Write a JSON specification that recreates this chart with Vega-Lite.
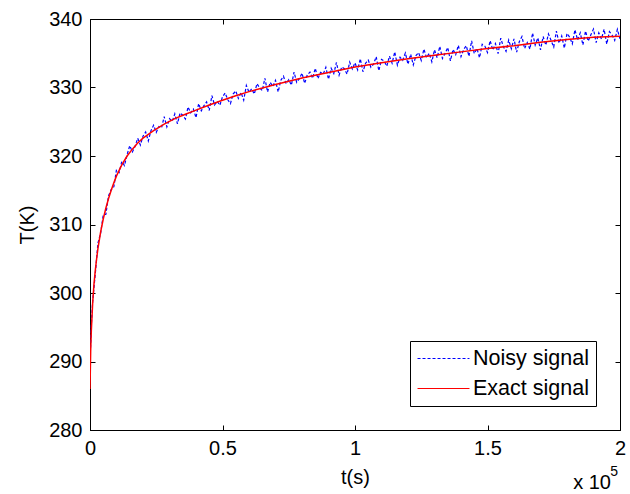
{
  "$schema": "https://vega.github.io/schema/vega-lite/v6.json",
  "width": 530,
  "height": 411,
  "autosize": {"type": "none"},
  "padding": {"left": 90, "top": 19, "right": 10, "bottom": 64},
  "background": "white",
  "config": {
    "font": "Liberation Sans",
    "view": {"stroke": "black", "strokeWidth": 1},
    "axis": {
      "grid": false,
      "domainColor": "black",
      "tickColor": "black",
      "labelColor": "black",
      "titleColor": "black",
      "labelFontSize": 20,
      "titleFontSize": 20,
      "titleFontWeight": "normal",
      "tickSize": -5,
      "labelPadding": 13
    },
    "legend": {
      "orient": "bottom-right",
      "offset": 24,
      "strokeColor": "black",
      "fillColor": "white",
      "padding": 7,
      "title": null,
      "symbolType": "stroke",
      "symbolSize": 2700,
      "symbolStrokeWidth": 1,
      "labelFontSize": 21.5,
      "labelColor": "black",
      "labelOffset": 3,
      "rowPadding": 8,
      "clipHeight": 21,
      "cornerRadius": 0
    }
  },
  "datasets": {
    "noisy": [
      {"t": 200, "T": 292.0}, {"t": 500, "T": 295.2},
      {"t": 1000, "T": 298.8}, {"t": 2000, "T": 302.8}, {"t": 3000, "T": 307.3}, {"t": 4000, "T": 308.7}, {"t": 5000, "T": 311.4},
      {"t": 6000, "T": 311.5}, {"t": 7000, "T": 314.2}, {"t": 8000, "T": 315.1}, {"t": 9000, "T": 315.5}, {"t": 10000, "T": 318.0},
      {"t": 11000, "T": 317.6}, {"t": 12000, "T": 319.2}, {"t": 13000, "T": 318.6}, {"t": 14000, "T": 320.2}, {"t": 15000, "T": 321.5},
      {"t": 16000, "T": 320.6}, {"t": 17000, "T": 321.4}, {"t": 18000, "T": 322.6}, {"t": 19000, "T": 321.6}, {"t": 20000, "T": 322.9},
      {"t": 21000, "T": 323.5}, {"t": 22000, "T": 322.2}, {"t": 23000, "T": 323.7}, {"t": 24000, "T": 324.5}, {"t": 25000, "T": 323.45},
      {"t": 26000, "T": 324.3}, {"t": 27000, "T": 324.1}, {"t": 28000, "T": 325.75}, {"t": 29000, "T": 324.25}, {"t": 30000, "T": 325.45},
      {"t": 31000, "T": 325.05}, {"t": 32000, "T": 326.15}, {"t": 33000, "T": 324.7}, {"t": 34000, "T": 326.3}, {"t": 35000, "T": 325.95},
      {"t": 36000, "T": 325.4}, {"t": 37000, "T": 327.15}, {"t": 38000, "T": 326.3}, {"t": 39000, "T": 326.85}, {"t": 40000, "T": 325.6},
      {"t": 41000, "T": 327.65}, {"t": 42000, "T": 326.6}, {"t": 43000, "T": 327.35}, {"t": 44000, "T": 327.9}, {"t": 45000, "T": 326.65},
      {"t": 46000, "T": 328.8}, {"t": 47000, "T": 327.45}, {"t": 48000, "T": 328.0}, {"t": 49000, "T": 327.4}, {"t": 50000, "T": 328.65},
      {"t": 51000, "T": 329.2}, {"t": 52000, "T": 328.2}, {"t": 53000, "T": 327.65}, {"t": 54000, "T": 329.05}, {"t": 55000, "T": 329.5},
      {"t": 56000, "T": 328.4}, {"t": 57000, "T": 329.25}, {"t": 58000, "T": 328.15}, {"t": 59000, "T": 330.3}, {"t": 60000, "T": 329.3},
      {"t": 61000, "T": 329.8}, {"t": 62000, "T": 329.05}, {"t": 63000, "T": 330.55}, {"t": 64000, "T": 329.95}, {"t": 65000, "T": 329.55},
      {"t": 66000, "T": 331.35}, {"t": 67000, "T": 329.35}, {"t": 68000, "T": 330.75}, {"t": 69000, "T": 330.15}, {"t": 70000, "T": 331.05},
      {"t": 71000, "T": 329.35}, {"t": 72000, "T": 331.05}, {"t": 73000, "T": 331.65}, {"t": 74000, "T": 330.55}, {"t": 75000, "T": 331.15},
      {"t": 76000, "T": 330.35}, {"t": 77000, "T": 332.25}, {"t": 78000, "T": 330.75}, {"t": 79000, "T": 331.3}, {"t": 80000, "T": 332.1},
      {"t": 81000, "T": 330.6}, {"t": 82000, "T": 331.85}, {"t": 83000, "T": 332.25}, {"t": 84000, "T": 331.35}, {"t": 85000, "T": 332.8},
      {"t": 86000, "T": 331.3}, {"t": 87000, "T": 332.2}, {"t": 88000, "T": 331.95}, {"t": 89000, "T": 332.95}, {"t": 90000, "T": 331.2},
      {"t": 91000, "T": 332.8}, {"t": 92000, "T": 332.05}, {"t": 93000, "T": 333.65}, {"t": 94000, "T": 331.8}, {"t": 95000, "T": 333.0},
      {"t": 96000, "T": 332.75}, {"t": 97000, "T": 331.95}, {"t": 98000, "T": 333.7}, {"t": 99000, "T": 332.7}, {"t": 100000, "T": 333.6},
      {"t": 101000, "T": 332.55}, {"t": 102000, "T": 334.2}, {"t": 103000, "T": 332.3}, {"t": 104000, "T": 333.55}, {"t": 105000, "T": 334.0},
      {"t": 106000, "T": 332.95}, {"t": 107000, "T": 333.4}, {"t": 108000, "T": 334.5}, {"t": 109000, "T": 332.45}, {"t": 110000, "T": 334.1},
      {"t": 111000, "T": 333.86}, {"t": 112000, "T": 333.12}, {"t": 113000, "T": 334.58}, {"t": 114000, "T": 333.54}, {"t": 115000, "T": 335.2},
      {"t": 116000, "T": 333.26}, {"t": 117000, "T": 334.42}, {"t": 118000, "T": 333.98}, {"t": 119000, "T": 335.04}, {"t": 120000, "T": 333.4},
      {"t": 121000, "T": 334.85}, {"t": 122000, "T": 333.3}, {"t": 123000, "T": 334.65}, {"t": 124000, "T": 335.1}, {"t": 125000, "T": 333.95},
      {"t": 126000, "T": 335.6}, {"t": 127000, "T": 334.35}, {"t": 128000, "T": 335.0}, {"t": 129000, "T": 333.75}, {"t": 130000, "T": 335.5},
      {"t": 131000, "T": 334.35}, {"t": 132000, "T": 336.0}, {"t": 133000, "T": 334.25}, {"t": 134000, "T": 335.0}, {"t": 135000, "T": 335.85},
      {"t": 136000, "T": 333.9}, {"t": 137000, "T": 335.55}, {"t": 138000, "T": 334.8}, {"t": 139000, "T": 336.15}, {"t": 140000, "T": 334.5},
      {"t": 141000, "T": 335.55}, {"t": 142000, "T": 336.1}, {"t": 143000, "T": 334.55}, {"t": 144000, "T": 336.8}, {"t": 145000, "T": 334.95},
      {"t": 146000, "T": 335.7}, {"t": 147000, "T": 334.35}, {"t": 148000, "T": 336.3}, {"t": 149000, "T": 336.05}, {"t": 150000, "T": 335.1},
      {"t": 151000, "T": 336.84}, {"t": 152000, "T": 335.48}, {"t": 153000, "T": 336.42}, {"t": 154000, "T": 334.96}, {"t": 155000, "T": 337.2},
      {"t": 156000, "T": 335.94}, {"t": 157000, "T": 335.28}, {"t": 158000, "T": 336.92}, {"t": 159000, "T": 335.66}, {"t": 160000, "T": 337.1},
      {"t": 161000, "T": 335.15}, {"t": 162000, "T": 336.7}, {"t": 163000, "T": 337.45}, {"t": 164000, "T": 335.7}, {"t": 165000, "T": 336.55},
      {"t": 166000, "T": 335.6}, {"t": 167000, "T": 337.95}, {"t": 168000, "T": 336.2}, {"t": 169000, "T": 337.25}, {"t": 170000, "T": 335.5},
      {"t": 171000, "T": 337.44}, {"t": 172000, "T": 336.18}, {"t": 173000, "T": 337.82}, {"t": 174000, "T": 336.86}, {"t": 175000, "T": 335.9},
      {"t": 176000, "T": 338.24}, {"t": 177000, "T": 336.48}, {"t": 178000, "T": 337.52}, {"t": 179000, "T": 335.76}, {"t": 180000, "T": 337.9},
      {"t": 181000, "T": 337.34}, {"t": 182000, "T": 336.38}, {"t": 183000, "T": 338.42}, {"t": 184000, "T": 336.95}, {"t": 185000, "T": 337.98},
      {"t": 186000, "T": 336.21}, {"t": 187000, "T": 338.24}, {"t": 188000, "T": 336.77}, {"t": 189000, "T": 337.7}, {"t": 190000, "T": 338.53},
      {"t": 191000, "T": 336.55}, {"t": 192000, "T": 337.97}, {"t": 193000, "T": 337.09}, {"t": 194000, "T": 338.51}, {"t": 195000, "T": 336.33},
      {"t": 196000, "T": 338.15}, {"t": 197000, "T": 337.67}, {"t": 198000, "T": 336.88}, {"t": 199000, "T": 338.49}, {"t": 200000, "T": 337.1}
    ],
    "exact": [
      {"t": 0, "T": 286.0}, {"t": 250, "T": 291.5}, {"t": 500, "T": 294.5}, {"t": 1000, "T": 298.5}, {"t": 1500, "T": 301.3},
      {"t": 2000, "T": 303.3}, {"t": 2500, "T": 305.0}, {"t": 3000, "T": 306.5}, {"t": 4000, "T": 308.9}, {"t": 5000, "T": 310.8},
      {"t": 6000, "T": 312.4}, {"t": 7000, "T": 313.8}, {"t": 8000, "T": 315.0}, {"t": 9000, "T": 316.1}, {"t": 10000, "T": 317.1},
      {"t": 12000, "T": 318.7}, {"t": 14000, "T": 320.0}, {"t": 16000, "T": 321.0}, {"t": 18000, "T": 321.9}, {"t": 20000, "T": 322.6},
      {"t": 24000, "T": 323.7}, {"t": 28000, "T": 324.65}, {"t": 32000, "T": 325.45}, {"t": 36000, "T": 326.1}, {"t": 40000, "T": 326.7},
      {"t": 45000, "T": 327.45}, {"t": 50000, "T": 328.15}, {"t": 55000, "T": 328.8}, {"t": 60000, "T": 329.4}, {"t": 70000, "T": 330.45},
      {"t": 80000, "T": 331.4}, {"t": 90000, "T": 332.2}, {"t": 100000, "T": 333.0}, {"t": 110000, "T": 333.6}, {"t": 120000, "T": 334.2},
      {"t": 130000, "T": 334.7}, {"t": 140000, "T": 335.2}, {"t": 150000, "T": 335.7}, {"t": 160000, "T": 336.1}, {"t": 170000, "T": 336.6},
      {"t": 180000, "T": 337.0}, {"t": 190000, "T": 337.33}, {"t": 200000, "T": 337.5}
    ]
  },
  "layer": [
    {
      "data": {"name": "noisy"},
      "mark": {"type": "line", "strokeWidth": 1.2, "strokeDash": [3, 2], "clip": true},
      "encoding": {
        "x": {"field": "t", "type": "quantitative", "title": "t(s)",
              "scale": {"domain": [0, 200000], "nice": false, "zero": false},
              "axis": {"orient": "bottom", "values": [0, 50000, 100000, 150000, 200000], "labelExpr": "datum.value / 100000", "titlePadding": 9, "labelFlush": false}},
        "y": {"field": "T", "type": "quantitative", "title": "T(K)",
              "scale": {"domain": [280, 340], "nice": false, "zero": false},
              "axis": {"orient": "left", "values": [280, 290, 300, 310, 320, 330, 340], "titlePadding": 11, "labelFlush": false}},
        "color": {"datum": "Noisy signal", "type": "nominal",
                  "scale": {"domain": ["Noisy signal", "Exact signal"], "range": ["#0000ff", "#ff0000"]},
                  "legend": {"encode": {"symbols": {"update": {
                    "stroke": {"signal": "datum.value === 'Noisy signal' ? '#0000ff' : '#ff0000'"},
                    "strokeDash": {"signal": "datum.value === 'Noisy signal' ? [3, 2] : null"}}}}}}
      }
    },
    {
      "data": {"name": "exact"},
      "mark": {"type": "line", "strokeWidth": 1.5, "clip": true},
      "encoding": {
        "x": {"field": "t", "type": "quantitative",
              "axis": {"orient": "top", "values": [0, 50000, 100000, 150000, 200000], "labels": false, "title": null, "domain": false}},
        "y": {"field": "T", "type": "quantitative",
              "axis": {"orient": "right", "values": [280, 290, 300, 310, 320, 330, 340], "labels": false, "title": null, "domain": false}},
        "color": {"datum": "Exact signal", "type": "nominal"}
      }
    },
    {
      "data": {"values": [{"label": "x 10"}]},
      "mark": {"type": "text", "align": "right", "baseline": "middle", "fontSize": 20, "color": "black", "dx": -9},
      "encoding": {
        "x": {"datum": 200000, "type": "quantitative", "axis": null},
        "y": {"datum": 272.3, "type": "quantitative", "axis": null},
        "text": {"field": "label"}
      }
    },
    {
      "data": {"values": [{"label": "5"}]},
      "mark": {"type": "text", "align": "right", "baseline": "middle", "fontSize": 14, "color": "black", "dx": -2},
      "encoding": {
        "x": {"datum": 200000, "type": "quantitative", "axis": null},
        "y": {"datum": 273.9, "type": "quantitative", "axis": null},
        "text": {"field": "label"}
      }
    }
  ],
  "resolve": {"axis": {"x": "independent", "y": "independent"}}
}
